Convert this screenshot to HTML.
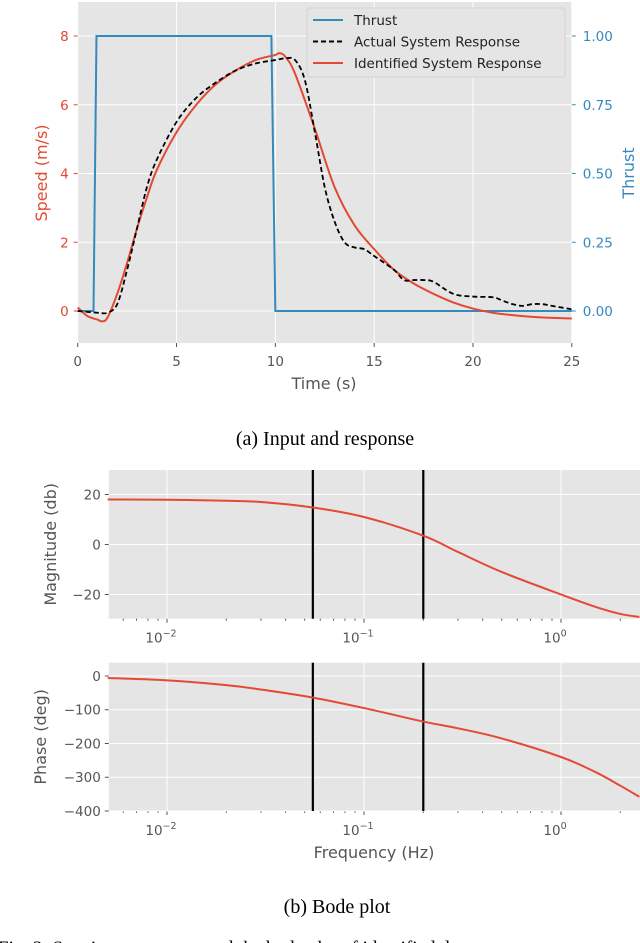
<!DOCTYPE html>
<html><head><meta charset="utf-8"><style>
html,body{margin:0;padding:0;background:#fff;width:640px;height:943px;overflow:hidden}
svg{display:block}
.t{font-family:"DejaVu Sans","Liberation Sans",sans-serif;font-size:13.5px;fill:#555}
.cap{font-family:"Liberation Serif",serif;font-size:20px;fill:#000}
</style></head><body>
<svg id="fig" width="640" height="943" xmlns="http://www.w3.org/2000/svg"></svg>
<script>
// ---- top chart data ----
const thrustT=[0,0.8,0.95,9.8,10,25];
const thrustV=[0,0,1,1,0,0];
const identT=[0,0.5,1,1.2,1.5,2,2.5,3,3.5,4,5,6,7,8,9,10,10.2,10.5,11,12,13,14,15,16,17,18,19,20,21,22,23,24,25];
const identV=[0.1,-0.15,-0.25,-0.3,-0.2,0.5,1.4,2.4,3.3,4.1,5.2,6.0,6.6,7.0,7.3,7.45,7.5,7.4,6.9,5.3,3.6,2.5,1.8,1.2,0.8,0.5,0.25,0.07,-0.05,-0.12,-0.17,-0.2,-0.22];
const actualT=[0,1,1.5,2,2.5,3,3.5,4,5,6,7,8,9,10,10.5,11,11.5,12,12.5,13,13.5,14,14.5,15,16,16.5,17,17.5,18,19,20,21,21.5,22,22.5,23,23.5,24,25];
const actualV=[0,-0.05,-0.05,0.2,1.2,2.4,3.6,4.4,5.5,6.2,6.65,7.0,7.2,7.3,7.35,7.3,6.7,5.2,3.6,2.6,2.0,1.85,1.8,1.6,1.2,0.9,0.9,0.9,0.85,0.5,0.42,0.4,0.3,0.2,0.15,0.2,0.2,0.15,0.05];
const xTicks=[0,5,10,15,20,25];
const ySpeedTicks=[0,2,4,6,8];
const yThrustTicks=[0,0.25,0.5,0.75,1.0];
const yThrustLabels=["0.00","0.25","0.50","0.75","1.00"];
// ---- bode data ----
const freq=[0.005,0.01,0.02,0.03,0.055,0.1,0.2,0.3,0.5,1,1.5,2,2.5];
const magDb=[18,17.9,17.5,17,14.8,11,3.5,-3,-11,-20,-25,-27.8,-29];
const phaseDeg=[-6,-13,-27,-40,-64,-95,-135,-155,-185,-240,-285,-325,-358];
const markerFreqs=[0.055,0.2];
const magTicks=[-20,0,20];
const phaseTicks=[-400,-300,-200,-100,0];
const logTicks=[-2,-1,0];

const NS="http://www.w3.org/2000/svg";
const svg=document.getElementById('fig');
function el(tag,attrs,parent,text){const e=document.createElementNS(NS,tag);for(const k in attrs)e.setAttribute(k,attrs[k]);if(text!==undefined)e.textContent=text;(parent||svg).appendChild(e);return e;}
function poly(xs,ys,fx,fy){return xs.map((x,i)=>fx(x).toFixed(2)+','+fy(ys[i]).toFixed(2)).join(' ');}
function smooth(xs,ys,fx,fy){const P=xs.map((x,i)=>[fx(x),fy(ys[i])]);let d='M'+P[0][0].toFixed(2)+','+P[0][1].toFixed(2);
 for(let i=0;i<P.length-1;i++){const p0=P[Math.max(0,i-1)],p1=P[i],p2=P[i+1],p3=P[Math.min(P.length-1,i+2)];
  const c1=[p1[0]+(p2[0]-p0[0])/6,p1[1]+(p2[1]-p0[1])/6],c2=[p2[0]-(p3[0]-p1[0])/6,p2[1]-(p3[1]-p1[1])/6];
  d+=' C'+c1[0].toFixed(2)+','+c1[1].toFixed(2)+' '+c2[0].toFixed(2)+','+c2[1].toFixed(2)+' '+p2[0].toFixed(2)+','+p2[1].toFixed(2);}
 return d;}

// ===== top chart =====
const L=77.7,R=571.8,T=2,B=343;
const sx=t=>L+(t-0)/25*(R-L);
const sy=v=>311-v*(311-36)/8;
const sy2=v=>311-v*(311-36);
let g=el('g',{},svg);

el('rect',{x:L,y:T,width:R-L,height:B-T,fill:'#e5e5e5'},g);
xTicks.forEach(t=>{let l=el('line',{x1:sx(t),x2:sx(t),y1:T,y2:B,stroke:'#fff','stroke-width':1},g);
 
 el('line',{x1:sx(t),x2:sx(t),y1:B,y2:B+4,stroke:'#555'},g);
 let tx=el('text',{x:sx(t),y:366,'text-anchor':'middle',class:'t'},g,String(t));
 });
ySpeedTicks.forEach(v=>{el('line',{x1:L,x2:R,y1:sy(v),y2:sy(v),stroke:'#fff','stroke-width':1},g);
 el('line',{x1:L-4,x2:L,y1:sy(v),y2:sy(v),stroke:'#e24a33'},g);
 let tx=el('text',{x:L-9,y:sy(v)+5,'text-anchor':'end',class:'t',style:'fill:#e24a33'},g,String(v));
 });
yThrustTicks.forEach((v,i)=>{el('line',{x1:R,x2:R+4,y1:sy2(v),y2:sy2(v),stroke:'#348abd'},g);
 let tx=el('text',{x:R+11,y:sy2(v)+5,class:'t',style:'fill:#348abd'},g,yThrustLabels[i]);
 });
let p=el('polyline',{points:poly(thrustT,thrustV,sx,sy2),fill:'none',stroke:'#348abd','stroke-width':2},g);

p=el('path',{d:smooth(identT,identV,sx,sy),fill:'none',stroke:'#e24a33','stroke-width':2,'stroke-linejoin':'round'},g);

p=el('path',{d:smooth(actualT,actualV,sx,sy),fill:'none',stroke:'#000','stroke-width':1.8,'stroke-dasharray':'5,3'},g);

let t1=el('text',{x:324,y:389,'text-anchor':'middle',class:'t',style:'font-size:16px'},g,'Time (s)');

let t2=el('text',{x:0,y:0,'text-anchor':'middle',class:'t',style:'font-size:16px;fill:#e24a33',transform:'translate(47,173) rotate(-90)'},g,'Speed (m/s)');

let t3=el('text',{x:0,y:0,'text-anchor':'middle',class:'t',style:'font-size:16px;fill:#348abd',transform:'translate(634,173) rotate(-90)'},g,'Thrust');

// legend
let lg=el('g',{},g);
el('rect',{x:307,y:8,width:258,height:69,rx:3,fill:'#e5e5e5',stroke:'#d0d0d0','stroke-opacity':0.8},lg);
const legItems=[['Thrust','#348abd',''],['Actual System Response','#000','5,3'],['Identified System Response','#e24a33','']];
legItems.forEach((it,i)=>{const y=20+i*21.5;
 el('line',{x1:313,x2:343,y1:y,y2:y,stroke:it[1],'stroke-width':2,'stroke-dasharray':it[2]},lg);
 let tx=el('text',{x:354,y:y+5,class:'t',style:'fill:#222;font-size:13.5px'},lg,it[0]);
 });
let c1=el('text',{x:325,y:445,'text-anchor':'middle',class:'cap'},svg,'(a) Input and response');


// ===== bode plots =====
const BL=108.8,BR=640;
const bx=f=>364+(Math.log10(f)+1)*197;
function bode(top,bottom,ymin,ymax,ticks,xs,ys,name,ylabel,ylx){
 const gy=v=>bottom-(v-ymin)/(ymax-ymin)*(bottom-top);
 const gg=el('g',{},svg);
 el('rect',{x:BL,y:top,width:BR-BL,height:bottom-top,fill:'#e5e5e5'},gg);
 logTicks.forEach(k=>{const x=bx(Math.pow(10,k));el('line',{x1:x,x2:x,y1:top,y2:bottom,stroke:'#fff'},gg);
  el('line',{x1:x,x2:x,y1:bottom,y2:bottom+4,stroke:'#555'},gg);
  const tx=el('text',{x:x-6,y:bottom+24,'text-anchor':'middle',class:'t'},gg,'10');
  el('tspan',{dy:-6,style:'font-size:9.5px'},tx,k===0?'0':'−'+(-k));
  
  for(let m=2;m<=9;m++){const xm=bx(m*Math.pow(10,k-1));if(xm>BL&&xm<BR)el('line',{x1:xm,x2:xm,y1:bottom,y2:bottom+2,stroke:'#555'},gg);}
 });
 for(let m=2;m<=9;m++){const xm=bx(m);if(xm<BR)el('line',{x1:xm,x2:xm,y1:bottom,y2:bottom+2,stroke:'#555'},gg);}
 ticks.forEach(v=>{el('line',{x1:BL,x2:BR,y1:gy(v),y2:gy(v),stroke:'#fff'},gg);
  el('line',{x1:BL-4,x2:BL,y1:gy(v),y2:gy(v),stroke:'#555'},gg);
  const tx=el('text',{x:BL-8,y:gy(v)+5,'text-anchor':'end',class:'t'},gg,v<0?'−'+(-v):String(v));
  });
 markerFreqs.forEach(f=>{const l=el('line',{x1:bx(f),x2:bx(f),y1:top,y2:bottom,stroke:'#000','stroke-width':2.2},gg);
  });
 const pl=el('path',{d:smooth(xs,ys,bx,gy),fill:'none',stroke:'#e24a33','stroke-width':2},gg);
 
 const yl=el('text',{x:0,y:0,'text-anchor':'middle',class:'t',style:'font-size:16px',transform:'translate('+ylx+','+((top+bottom)/2)+') rotate(-90)'},gg,ylabel);
 
}
bode(470,618.7,-29.7,29.8,magTicks,freq,magDb,'magnitude-plot','Magnitude (db)',56);
bode(662.7,811,-400,39.4,phaseTicks,freq,phaseDeg,'phase-plot','Phase (deg)',46);
let fl=el('text',{x:374,y:858,'text-anchor':'middle',class:'t',style:'font-size:16px'},svg,'Frequency (Hz)');

let c2=el('text',{x:337,y:913,'text-anchor':'middle',class:'cap'},svg,'(b) Bode plot');

let c3=el('text',{x:-2,y:954,class:'cap',style:'font-size:19px'},svg,'Fig. 3: Step input response and the bode plot of identified dyn');

</script>
</body></html>
